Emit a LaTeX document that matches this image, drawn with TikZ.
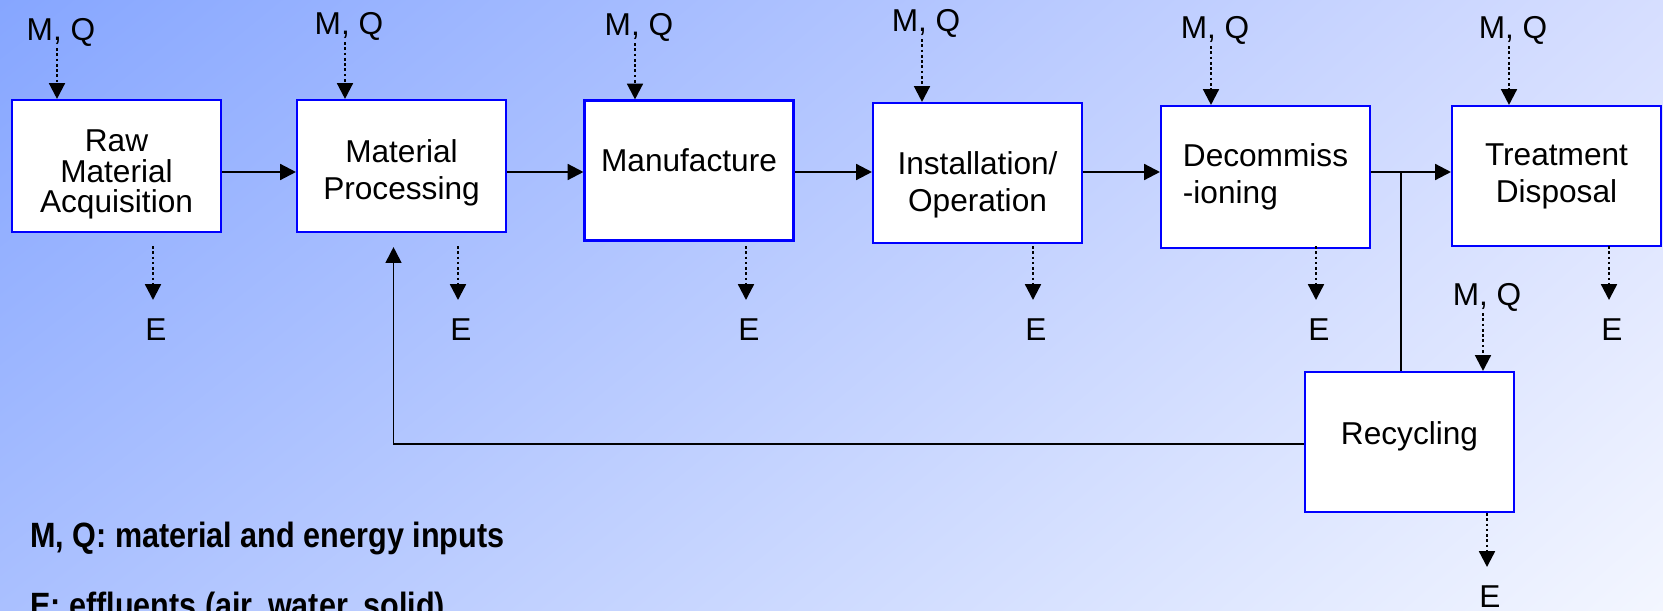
\documentclass[tikz,border=0pt]{standalone}
\usepackage{fontspec}
\setmainfont{Liberation Sans}
\newfontfamily\legendfont[FakeStretch=0.87]{Liberation Sans}
\usetikzlibrary{arrows.meta,calc,shadings}
\definecolor{bgTL}{RGB}{134,166,255}
\definecolor{bgTR}{RGB}{214,222,255}
\definecolor{bgBL}{RGB}{170,192,255}
\definecolor{bgBR}{RGB}{243,246,255}
\newcommand\lift[1]{\rule{0pt}{#1}}
\tikzset{
  >={Triangle[length=9pt,width=9pt]},
  stage/.style={draw=blue,line width=1.2pt,fill=white,align=center,minimum width=4.18cm,minimum height=2.8cm,font=\fontsize{18}{21}\selectfont,inner sep=2pt},
  lbl/.style={font=\fontsize{18}{20}\selectfont,inner sep=1pt},
  key/.style={font=\legendfont\bfseries\fontsize{20}{24}\selectfont,inner sep=0pt},
  flow/.style={->,line width=1.3pt},
  io/.style={->,line width=1.3pt,dash pattern=on 1.5pt off 1.5pt},
  back/.style={line width=1pt}
}
\begin{document}
\begin{tikzpicture}[x=0.02cm,y=-0.02cm]
\useasboundingbox (0,0) rectangle (1663,611);
\clip (0,0) rectangle (1663,611);
\shade[upper left=bgTL,upper right=bgTR,lower left=bgBL,lower right=bgBR] (0,0) rectangle (1663,611);
% life cycle stages
\node[stage,minimum height=2.64cm,font=\fontsize{18}{17.5}\selectfont](rma)at(116.5,166){\lift{22pt}Raw\\Material\\Acquisition};
\node[stage,minimum height=2.64cm](mp)at(401.5,166){\lift{21pt}Material\\Processing};
\node[stage,text depth=12pt](mfg)at(689,170.5){Manufacture};
\node[stage](inst)at(977.5,173){\lift{27pt}Installation/\\Operation};
\node[stage,align=left,minimum height=2.84cm](dec)at(1265.5,177){Decommiss\\-ioning};
\node[stage](trt)at(1556.5,176){Treatment\\Disposal};
\node[stage,text depth=10.5pt](rec)at(1409.5,442){Recycling};
\coordinate(flowrow)at(0,172);
\coordinate(split)at(1401,172);
\coordinate(backrow)at(0,444);
% inputs
\node[lbl](mq1)at(61,32){M, Q};
\node[lbl](mq2)at(349,26){M, Q};
\node[lbl](mq3)at(639,27){M, Q};
\node[lbl](mq4)at(926,23){M, Q};
\node[lbl](mq5)at(1215,30){M, Q};
\node[lbl](mq6)at(1513,30){M, Q};
\node[lbl](mqr)at(1487,297){M, Q};
% effluents
\node[lbl](e1)at(156,330){E};
\node[lbl](e2)at(461,330){E};
\node[lbl](e3)at(749,330){E};
\node[lbl](e4)at(1036,330){E};
\node[lbl](e5)at(1319,330){E};
\node[lbl](e6)at(1612,330){E};
\node[lbl](er)at(1490,597){E};
\foreach \m/\s in {mq1/rma,mq2/mp,mq3/mfg,mq4/inst,mq5/dec,mq6/trt,mqr/rec}{
  \draw[io]($(\m.south)+(-4,0)$)--($(\m.south |- \s.north)+(-4,0)$);}
\foreach \e in {e1,e2,e3,e4,e5,e6,er}{
  \draw[io]($(\e.north)+(-3,-71)$)--($(\e.north)+(-3,-17)$);}
% main flow
\draw[flow](rma.east |- flowrow)--(mp.west |- flowrow);
\draw[flow](mp.east |- flowrow)--(mfg.west |- flowrow);
\draw[flow](mfg.east |- flowrow)--(inst.west |- flowrow);
\draw[flow](inst.east |- flowrow)--(dec.west |- flowrow);
\draw[flow](dec.east |- flowrow)--(trt.west |- flowrow);
\draw[back](split)--(split |- rec.north);
\draw[back,->](rec.west |- backrow)-|($(mp.south)+(-8,14)$);
% legend
\node[key,anchor=base west](keymq)at(30,547){M, Q: material and energy inputs};
\node[key,anchor=base west](keye)at(30,617){E: effluents (air, water, solid)};
\end{tikzpicture}
\end{document}
